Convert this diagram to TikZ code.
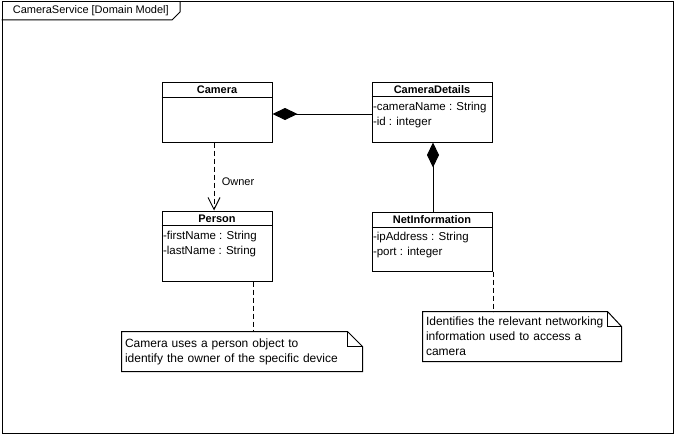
\documentclass[tikz,border=0pt]{standalone}
\usepackage{fontspec}
\setmainfont{Liberation Sans}
\usetikzlibrary{arrows.meta,positioning}

\begin{document}
\begin{tikzpicture}[x=1pt,y=-1pt,line width=1pt,
    every node/.style={font=\fontsize{11}{15}\selectfont},
    classbox/.style={draw,fill=white,inner sep=0pt},
    classname/.style={font=\fontsize{11}{15}\selectfont\bfseries,inner sep=0pt},
    attr/.style={anchor=west,inner sep=0pt,xshift=1pt,font=\fontsize{11.5}{15}\selectfont},
    notebox/.style={text width=#1,inner xsep=3pt,inner ysep=2pt,align=left,font=\fontsize{12}{15}\selectfont},
    link/.style={dash pattern=on 5pt off 3pt}]
    \useasboundingbox (0,0) rectangle (676,436);
    % frame with its tab
    \node[draw,inner sep=0pt,minimum width=671pt,minimum height=431pt] (frame) at (337.5,217.5) {};
    \node[anchor=west] (frameLabel) at (9,11) {CameraService [Domain Model]};
    \draw (frame.west |- 0,20) -- (172,20) -- (180,12) -- (frame.north -| 180,0);

    % classes
    \node[classbox,minimum width=110pt,minimum height=60pt] (Camera) at (217,112) {};
    \node[classname] at ([yshift=-8pt]Camera.north) {Camera};
    \draw ([yshift=-16pt]Camera.north west) -- ([yshift=-16pt]Camera.north east);

    \node[classbox,minimum width=120pt,minimum height=60pt] (CameraDetails) at (432,112) {};
    \node[classname] at ([yshift=-8pt]CameraDetails.north) {CameraDetails};
    \draw ([yshift=-15pt]CameraDetails.north west) -- ([yshift=-15pt]CameraDetails.north east);
    \node[attr] at ([yshift=-26pt]CameraDetails.north west) {-cameraName : String};
    \node[attr] at ([yshift=-41pt]CameraDetails.north west) {-id : integer};

    \node[classbox,minimum width=110pt,minimum height=70pt] (Person) at (217,246) {};
    \node[classname] at ([yshift=-8pt]Person.north) {Person};
    \draw ([yshift=-15pt]Person.north west) -- ([yshift=-15pt]Person.north east);
    \node[attr] at ([yshift=-26pt]Person.north west) {-firstName : String};
    \node[attr] at ([yshift=-41pt]Person.north west) {-lastName : String};

    \node[classbox,minimum width=120pt,minimum height=59pt] (NetInformation) at (432,241.5) {};
    \node[classname] at ([yshift=-8pt]NetInformation.north) {NetInformation};
    \draw ([yshift=-16pt]NetInformation.north west) -- ([yshift=-16pt]NetInformation.north east);
    \node[attr] at ([yshift=-26pt]NetInformation.north west) {-ipAddress : String};
    \node[attr] at ([yshift=-41pt]NetInformation.north west) {-port : integer};

    % notes
    \node[notebox=234pt,minimum height=39pt] (Note1) at (242,351.5)
        {Camera uses a person object to\\identify the owner of the specific device};
    \draw (Note1.north west) -- ([xshift=-15pt]Note1.north east) -- ([yshift=-15pt]Note1.north east)
        -- (Note1.south east) -- (Note1.south west) -- cycle;
    \draw ([xshift=-15pt]Note1.north east) |- ([yshift=-15pt]Note1.north east);

    \node[notebox=192pt,minimum height=49pt] (Note2) at (522,336.5)
        {Identifies the relevant networking\\information used to access a\\camera};
    \draw (Note2.north west) -- ([xshift=-14pt]Note2.north east) -- ([yshift=-15pt]Note2.north east)
        -- (Note2.south east) -- (Note2.south west) -- cycle;
    \draw ([xshift=-14pt]Note2.north east) |- ([yshift=-15pt]Note2.north east);

    % connectors
    \draw[-{Diamond[length=25pt,width=12pt]}] ([yshift=-2pt]CameraDetails.west) -- ([yshift=-2pt]Camera.east);
    \draw[-{Diamond[length=25pt,width=12pt]}] ([xshift=1pt]NetInformation.north) -- ([xshift=1pt]CameraDetails.south);
    \draw[link,-{Straight Barb[length=12pt,width=12pt]}] ([xshift=-3pt]Camera.south)
        -- node[right=4pt,pos=0.57] {Owner} ([xshift=-3pt]Person.north);
    \draw[link] ([xshift=36pt]Person.south) -- ([xshift=36pt]Person.south |- Note1.north);
    \draw[link] ([xshift=1pt]NetInformation.south east) -- ([xshift=1pt]NetInformation.south east |- Note2.north);
\end{tikzpicture}
\end{document}
